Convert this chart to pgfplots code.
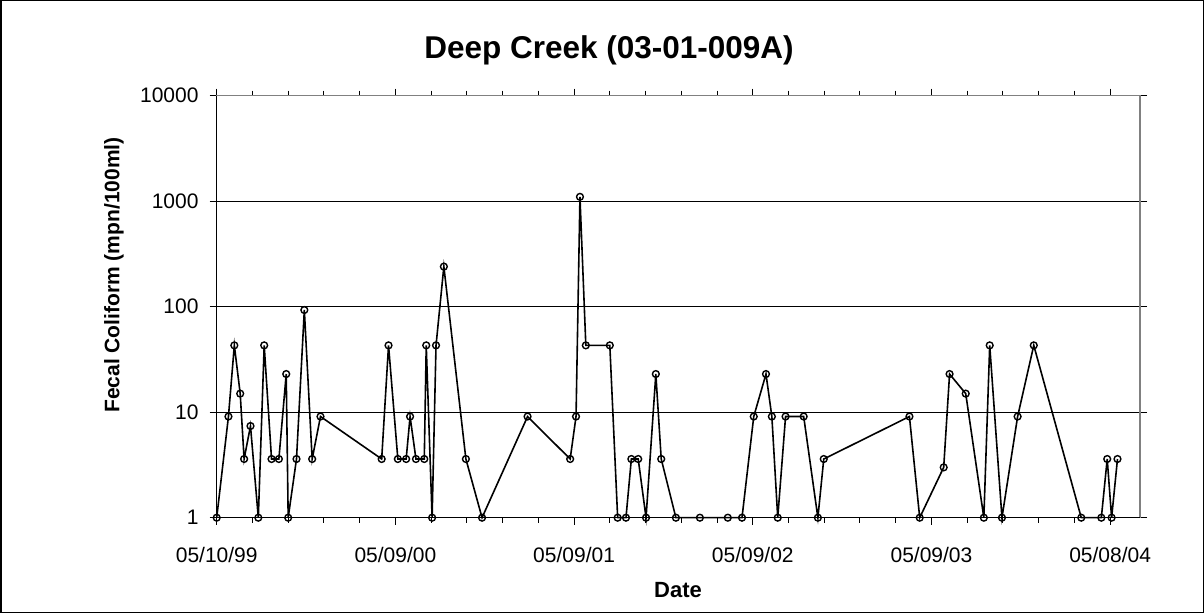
\documentclass[border=0pt]{standalone}
\usepackage{pgfplots}
\pgfplotsset{compat=1.18}
\usepackage{pgfplotstable}
\usepackage{fontspec}
\setmainfont{Liberation Sans}
\pgfplotstableread{
x y
0 1
24 9.1
36 43
48 15
56 3.6
69 7.4
85 1
97 43
112 3.6
127 3.6
142 23
146 1
163 3.6
179 93
195 3.6
212 9.1
337 3.6
351 43
370 3.6
387 3.6
395 9.1
407 3.6
424 3.6
428 43
440 1
448 43
464 240
509 3.6
542 1
635 9.1
722 3.6
734 9.1
742 1100
754 43
803 43
819 1
836 1
847 3.6
861 3.6
877 1
897 23
908 3.6
938 1
987 1
1044 1
1073 1
1097 9.1
1122 23
1134 9.1
1146 1
1162 9.1
1199 9.1
1228 1
1240 3.6
1415 9.1
1436 1
1485 3.0
1497 23
1530 15
1567 1
1579 43
1604 1
1636 9.1
1669 43
1766 1
1807 1
1819 3.6
1828 1
1840 3.6
}\datatable
\begin{document}
\begin{tikzpicture}
\useasboundingbox (0,0) rectangle (1204pt,613pt);
\draw[black, line width=1.5pt] (0.75pt,0.75pt) rectangle (1203.25pt,612.25pt);
\begin{axis}[
  at={(216.7pt,95.3pt)}, anchor=south west,
  scale only axis, width=923.3pt, height=422pt,
  ymode=log, ymin=1, ymax=10000,
  xmin=0, xmax=1886,
  xtick={0,365,730,1095,1460,1825},
  xticklabels={05/10/99,05/09/00,05/09/01,05/09/02,05/09/03,05/08/04},
  minor x tick num=4,
  ytick={1,10,100,1000,10000},
  yticklabels={1,10,100,1000,10000},
  yminorticks=false,
  tick align=outside,
  major tick length=7pt, minor tick length=5pt,
  tick style={black, line width=1pt},
  ymajorgrids, major grid style={black, line width=1pt},
  axis line style={draw=gray, line width=1.5pt},
  tick label style={font=\fontsize{21}{24}\selectfont},
  xticklabel style={anchor=base, inner sep=0pt, yshift=-38.3pt},
  xticklabel shift=0pt,
  yticklabel style={anchor=east, inner sep=0pt, xshift=-11pt},
  clip=false,
]
\addplot[black, line width=1.6pt, mark=o, mark size=3.4pt,
  mark options={fill=white, line width=1.4pt}] table[x=x,y=y] {\datatable};
\draw[black, line width=1.2pt] (rel axis cs:0,1) -- (rel axis cs:0,0) -- (rel axis cs:1,0);
\end{axis}
\node[font=\bfseries\fontsize{31.5}{35}\selectfont] at (609pt,563pt) {Deep Creek (03-01-009A)};
\node[font=\bfseries\fontsize{21}{24}\selectfont, rotate=90] at (114pt,338pt) {Fecal Coliform (mpn/100ml)};
\node[font=\bfseries\fontsize{22}{24}\selectfont] at (678pt,23pt) {Date};
\end{tikzpicture}
\end{document}
